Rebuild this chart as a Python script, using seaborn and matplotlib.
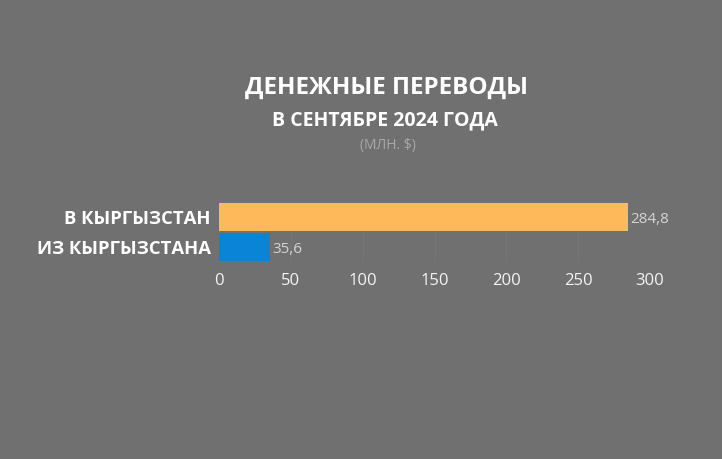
import numpy as np
import pandas as pd
import matplotlib
matplotlib.use('Agg')
import matplotlib.pyplot as plt
import seaborn as sns

categories = ['В КЫРГЫЗСТАН', 'ИЗ КЫРГЫЗСТАНА']
values = [284.8, 35.6]
value_labels = ['284,8', '35,6']
colors = ['#FDB95A', '#0A85D5']
xticks = [0, 50, 100, 150, 200, 250, 300]

bg = '#707070'
sns.set_style('white')
plt.rcParams['font.family'] = ['Open Sans', 'DejaVu Sans']

df = pd.DataFrame({'cat': categories, 'val': values})

fig = plt.figure(figsize=(7.22, 4.59), dpi=100, facecolor=bg)
ax = fig.add_axes([219 / 722, 1 - 262 / 459, 431 / 722, 60 / 459])
ax.set_facecolor(bg)

sns.barplot(data=df, x='val', y='cat', hue='cat', palette=colors,
            saturation=1, width=0.93, linewidth=0, legend=False, ax=ax, zorder=3)

ax.set_xlim(0, 300)
ax.set_ylim(1.5, -0.5)
ax.set_xticks(xticks)
ax.set_xticklabels([str(t) for t in xticks], color='#f4f4f4', fontsize=12)
ax.set_yticks([0, 1])
ax.set_yticklabels(categories, color='white', fontsize=13.3, fontweight='bold')
ax.tick_params(axis='both', length=0, pad=6)
ax.tick_params(axis='x', pad=8)
ax.set_xlabel('')
ax.set_ylabel('')
ax.grid(axis='x', color='#767676', linewidth=0.8, zorder=0)
for s in ax.spines.values():
    s.set_visible(False)

for i, (v, lab) in enumerate(zip(values, value_labels)):
    ax.text(v + 1.5, i + 0.08, lab, color='#d4d4d4', fontsize=11,
            va='center', ha='left')

fig.text(0.535, 1 - 88 / 459, 'ДЕНЕЖНЫЕ ПЕРЕВОДЫ', color='white', fontsize=17.5,
         fontweight='bold', ha='center', va='center')
fig.text(0.533, 1 - 120 / 459, 'В СЕНТЯБРЕ 2024 ГОДА', color='white', fontsize=14,
         fontweight='bold', ha='center', va='center')
fig.text(0.537, 1 - 146 / 459, '(МЛН. $)', color='#a8a8a8', fontsize=10,
         ha='center', va='center')

fig.savefig('out.png', dpi=100, facecolor=bg)
